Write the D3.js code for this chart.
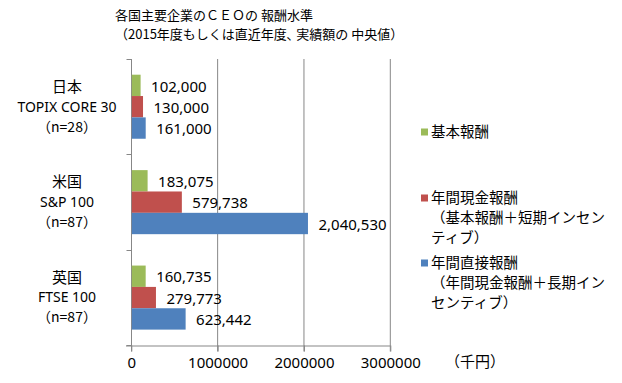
<!DOCTYPE html>
<html><head><meta charset="utf-8">
<script src="https://cdn.jsdelivr.net/npm/d3@7"></script>
<style>
body{margin:0;background:#fff;}
svg{display:block;}
text{font-family:"Noto Sans CJK JP","Noto Sans",sans-serif;fill:#000;}
.num{font-family:"Noto Sans","Noto Sans CJK JP",sans-serif;}
</style></head>
<body><svg id="c" width="622" height="383"></svg>
<script>
const titleLines = ["各国主要企業のＣＥＯの 報酬水準", "（2015年度もしくは直近年度､ 実績額の 中央値）"];
const categories = ["日本", "米国", "英国"];
const categorySub = [["TOPIX CORE 30", "（n=28）"], ["S&P 100", "（n=87）"], ["FTSE 100", "（n=87）"]];
const seriesNames = ["基本報酬", "年間現金報酬", "年間直接報酬"];
const legendLines = [["基本報酬"], ["年間現金報酬", "（基本報酬＋短期インセン", "ティブ）"], ["年間直接報酬", "（年間現金報酬＋長期イン", "センティブ）"]];
const basePay = [102000, 183075, 160735];
const cashPay = [130000, 579738, 279773];
const directPay = [161000, 2040530, 623442];
const xTicks = [0, 1000000, 2000000, 3000000];
const unitLabel = "（千円）";
const colors = ["#9BBB59", "#C0504D", "#4F81BD"];

const series = [basePay, cashPay, directPay];
const svg = d3.select("#c");
const fmt = d3.format(",");

const x = d3.scaleLinear().domain([0, 3000000]).range([131.3, 390.3]);
const y = d3.scaleBand().domain(categories).range([59, 345.3]).padding(0);
const ys = d3.scaleBand().domain(d3.range(3)).range([0, y.bandwidth()]).paddingOuter(0.735).paddingInner(0);

// title
svg.selectAll(".title").data(titleLines).join("text")
  .attr("x", 115).attr("y", (d, i) => 15.5 + i * 18.5).attr("dy", "0.35em")
  .attr("font-size", 13).text(d => d);

// gridlines
const g = svg.append("g");
g.selectAll(".grid").data(xTicks.slice(1)).join("line")
  .attr("x1", d => x(d)).attr("x2", d => x(d))
  .attr("y1", 59).attr("y2", 351.5)
  .attr("stroke", "#878787").attr("stroke-width", 1);

// x axis
const xAxis = d3.axisBottom(x).tickValues(xTicks).tickFormat(d3.format("d")).tickSize(6).tickPadding(6);
const xa = svg.append("g").attr("transform", "translate(0,345.5)").call(xAxis);
xa.select(".domain").attr("stroke", "#878787").attr("d", "M126,0.5H390.3");
xa.selectAll(".tick line").attr("stroke", "#878787");
xa.selectAll(".tick text").attr("font-size", 15).attr("class", "num").attr("fill", "#000")
  .attr("font-family", "'Noto Sans',sans-serif");

// y axis
const ya = svg.append("g").attr("transform", "translate(131.5,0)");
ya.append("line").attr("x1", 0).attr("x2", 0).attr("y1", 59).attr("y2", 351.5).attr("stroke", "#878787");
ya.selectAll(".ct").data([y.range()[0], ...categories.map(c => y(c) + y.bandwidth())]).join("line")
  .attr("x1", -5).attr("x2", 0).attr("y1", d => Math.round(d) + 0.5).attr("y2", d => Math.round(d) + 0.5)
  .attr("stroke", "#878787");

// bars
series.forEach((vals, si) => {
  svg.append("g").selectAll("rect").data(vals).join("rect")
    .attr("x", x(0) + 0.5)
    .attr("y", (d, i) => y(categories[i]) + ys(si))
    .attr("width", d => x(d) - x(0))
    .attr("height", ys.bandwidth())
    .attr("fill", colors[si]);
  svg.append("g").selectAll("text").data(vals).join("text")
    .attr("class", "num")
    .attr("x", d => x(d) + 11)
    .attr("y", (d, i) => y(categories[i]) + ys(si) + ys.bandwidth() / 2 + 1)
    .attr("dy", "0.35em")
    .attr("font-size", 15)
    .text(d => fmt(d));
});

// category labels
categories.forEach((c, i) => {
  const cy = y(c) + y.bandwidth() / 2;
  svg.append("text").attr("x", 67).attr("y", cy - 20).attr("dy", "0.35em")
    .attr("text-anchor", "middle").attr("font-size", 15).text(c);
  categorySub[i].forEach((s, j) => {
    svg.append("text").attr("class", j === 0 ? "num" : null).attr("x", 67).attr("y", cy + j * 20).attr("dy", "0.35em")
      .attr("text-anchor", "middle").attr("font-size", 14).text(s);
  });
});

// unit label
svg.append("text").attr("x", 445).attr("y", 362).attr("dy", "0.35em").attr("font-size", 15).text(unitLabel);

// legend
const legendY = [132, 198, 263];
seriesNames.forEach((n, i) => {
  svg.append("rect").attr("x", 421).attr("y", legendY[i] - 3.5).attr("width", 7).attr("height", 7).attr("fill", colors[i]);
  legendLines[i].forEach((l, j) => {
    svg.append("text").attr("x", 431).attr("y", legendY[i] + j * 20).attr("dy", "0.35em")
      .attr("font-size", 14.5).text(l);
  });
});
</script></body></html>
